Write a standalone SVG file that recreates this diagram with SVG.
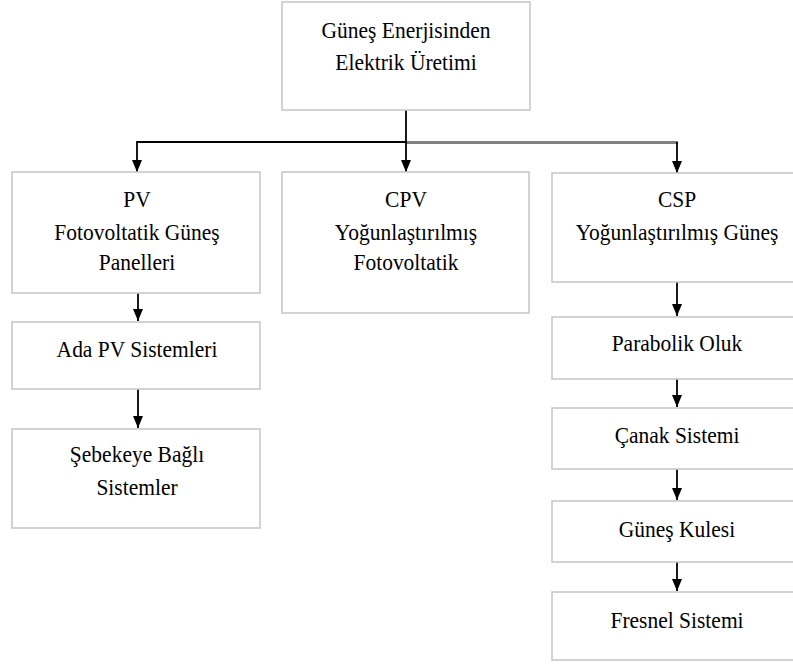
<svg xmlns="http://www.w3.org/2000/svg" width="793" height="664" viewBox="0 0 793 664">
<style>
.box{fill:#fff;stroke:#c8c8c8;stroke-width:1.6}
.t{font-family:"Liberation Serif","Times New Roman",serif;font-size:23px;fill:#000;text-anchor:middle}
.c{stroke:#000;stroke-width:1.8;fill:none}
.cg{stroke:#808080;stroke-width:3;fill:none}
</style>
<defs>
<marker id="ah" markerWidth="12" markerHeight="12" viewBox="0 0 12 12" refX="12" refY="6" orient="auto" markerUnits="userSpaceOnUse">
<path d="M0,1 L12,6 L0,11 z" fill="#000"/>
</marker>
</defs>
<rect width="793" height="664" fill="#fff"/>
<g id="connectors">
<path class="cg" d="M406,142.5 H678"/>
<path class="c" d="M406,142 H137 V172" marker-end="url(#ah)"/>
<path class="c" d="M406,110 V172" marker-end="url(#ah)"/>
<path class="c" d="M677,142 V173" marker-end="url(#ah)"/>
<path class="c" d="M138,293 V321" marker-end="url(#ah)"/>
<path class="c" d="M138,389 V428" marker-end="url(#ah)"/>
<path class="c" d="M677,282 V316" marker-end="url(#ah)"/>
<path class="c" d="M677,379 V407" marker-end="url(#ah)"/>
<path class="c" d="M677,469 V500" marker-end="url(#ah)"/>
<path class="c" d="M677,562 V591" marker-end="url(#ah)"/>
</g>
<g id="root">
<rect class="box" x="282" y="2" width="248" height="108"/>
<text class="t" transform="translate(406,38) scale(0.935,1)">Güneş Enerjisinden</text>
<text class="t" transform="translate(406,70) scale(0.935,1)">Elektrik Üretimi</text>
</g>
<g id="pv">
<rect class="box" x="12" y="172" width="248" height="121"/>
<text class="t" transform="translate(137,207) scale(0.935,1)">PV</text>
<text class="t" transform="translate(137,240) scale(0.935,1)">Fotovoltatik Güneş</text>
<text class="t" transform="translate(137,270) scale(0.935,1)">Panelleri</text>
</g>
<g id="cpv">
<rect class="box" x="282" y="172" width="247" height="141"/>
<text class="t" transform="translate(406,207) scale(0.935,1)">CPV</text>
<text class="t" transform="translate(406,240) scale(0.935,1)">Yoğunlaştırılmış</text>
<text class="t" transform="translate(406,270) scale(0.935,1)">Fotovoltatik</text>
</g>
<g id="csp">
<rect class="box" x="552" y="173" width="250" height="109"/>
<text class="t" transform="translate(677,207) scale(0.935,1)">CSP</text>
<text class="t" transform="translate(677,240) scale(0.935,1)">Yoğunlaştırılmış Güneş</text>
</g>
<g id="ada">
<rect class="box" x="12" y="322" width="248" height="67"/>
<text class="t" transform="translate(137,357) scale(0.935,1)">Ada PV Sistemleri</text>
</g>
<g id="sebeke">
<rect class="box" x="12" y="429" width="248" height="99"/>
<text class="t" transform="translate(137,462) scale(0.935,1)">Şebekeye Bağlı</text>
<text class="t" transform="translate(137,495) scale(0.935,1)">Sistemler</text>
</g>
<g id="parabolik">
<rect class="box" x="552" y="317" width="250" height="62"/>
<text class="t" transform="translate(677,351) scale(0.935,1)">Parabolik Oluk</text>
</g>
<g id="canak">
<rect class="box" x="552" y="408" width="250" height="61"/>
<text class="t" transform="translate(677,443) scale(0.935,1)">Çanak Sistemi</text>
</g>
<g id="kule">
<rect class="box" x="552" y="501" width="250" height="61"/>
<text class="t" transform="translate(677,537) scale(0.935,1)">Güneş Kulesi</text>
</g>
<g id="fresnel">
<rect class="box" x="552" y="592" width="250" height="68"/>
<text class="t" transform="translate(677,628) scale(0.935,1)">Fresnel Sistemi</text>
</g>
</svg>
